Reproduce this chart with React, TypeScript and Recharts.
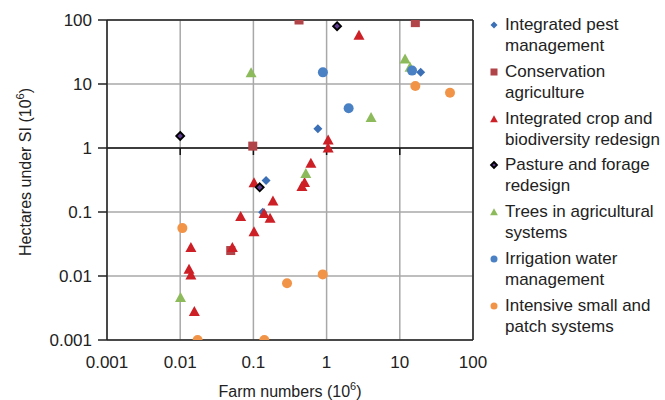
import {
  ScatterChart,
  Scatter,
  XAxis,
  YAxis,
  CartesianGrid,
  ReferenceLine,
  Label,
} from "recharts";

type Pt = { x: number; y: number };

const xTicks = [0.001, 0.01, 0.1, 1, 10, 100];
const yTicks = [0.001, 0.01, 0.1, 1, 10, 100];

// farm numbers (10^6) vs hectares under SI (10^6)
const pestMgmt: Pt[] = [
  { x: 19.3, y: 15.2 },
  { x: 0.76, y: 2.0 },
  { x: 0.149, y: 0.31 },
  { x: 0.134, y: 0.099 },
];

const conservation: Pt[] = [
  { x: 0.42, y: 100 },
  { x: 16.3, y: 91 },
  { x: 0.098, y: 1.07 },
  { x: 0.049, y: 0.025 },
];

const cropBiodiv: Pt[] = [
  { x: 2.77, y: 58 },
  { x: 1.05, y: 1.33 },
  { x: 1.05, y: 1.0 },
  { x: 0.61, y: 0.58 },
  { x: 0.5, y: 0.29 },
  { x: 0.46, y: 0.25 },
  { x: 0.102, y: 0.287 },
  { x: 0.185, y: 0.149 },
  { x: 0.14, y: 0.095 },
  { x: 0.169, y: 0.08 },
  { x: 0.067, y: 0.085 },
  { x: 0.102, y: 0.049 },
  { x: 0.014, y: 0.028 },
  { x: 0.0516, y: 0.028 },
  { x: 0.0132, y: 0.0127 },
  { x: 0.014, y: 0.0104 },
  { x: 0.0156, y: 0.0028 },
];

const pasture: Pt[] = [
  { x: 0.01, y: 1.54 },
  { x: 1.39, y: 80 },
  { x: 0.122, y: 0.243 },
];

const trees: Pt[] = [
  { x: 0.093, y: 15 },
  { x: 11.8, y: 24.5 },
  { x: 13.8, y: 18.2 },
  { x: 4.05, y: 3.0 },
  { x: 0.52, y: 0.4 },
  { x: 0.0101, y: 0.0046 },
];

const irrigation: Pt[] = [
  { x: 14.7, y: 16.2 },
  { x: 0.89, y: 15.2 },
  { x: 2.0, y: 4.17 },
];

const smallPatch: Pt[] = [
  { x: 16.3, y: 9.3 },
  { x: 48.5, y: 7.3 },
  { x: 0.885, y: 0.0106 },
  { x: 0.0107, y: 0.056 },
  { x: 0.288, y: 0.0077 },
  { x: 0.0173, y: 0.001 },
  { x: 0.141, y: 0.001 },
];

// the horizontal axis crosses at y = 1, with its ticks
const crossTicks: Pt[] = xTicks.slice(1, -1).map((x) => ({ x, y: 1 }));

type Kind = "diamond" | "square" | "triangle" | "pasture" | "circle";

const drawMark = (kind: Kind, color: string, cx: number, cy: number, s: number) => {
  if (kind === "square")
    return <rect x={cx - s / 2} y={cy - s / 2} width={s} height={s} fill={color} />;
  if (kind === "circle") return <circle cx={cx} cy={cy} r={s / 2} fill={color} />;
  if (kind === "triangle")
    return (
      <polygon
        points={`${cx},${cy - s * 0.55} ${cx + s * 0.55},${cy + s * 0.45} ${cx - s * 0.55},${cy + s * 0.45}`}
        fill={color}
      />
    );
  const h = s / 2;
  const pts = `${cx},${cy - h} ${cx + h},${cy} ${cx},${cy + h} ${cx - h},${cy}`;
  if (kind === "pasture")
    return <polygon points={pts} fill={color} stroke="#000" strokeWidth={1.8} />;
  return <polygon points={pts} fill={color} />;
};

const series: { name: string[]; data: Pt[]; kind: Kind; color: string; size: number }[] = [
  { name: ["Integrated pest", "management"], data: pestMgmt, kind: "diamond", color: "#3b6fb6", size: 9 },
  { name: ["Conservation", "agriculture"], data: conservation, kind: "square", color: "#b04448", size: 9 },
  { name: ["Integrated crop and", "biodiversity redesign"], data: cropBiodiv, kind: "triangle", color: "#cc1f26", size: 10 },
  { name: ["Pasture and forage", "redesign"], data: pasture, kind: "pasture", color: "#5e3d8f", size: 8 },
  { name: ["Trees in agricultural", "systems"], data: trees, kind: "triangle", color: "#8dbb5c", size: 10 },
  { name: ["Irrigation water", "management"], data: irrigation, kind: "circle", color: "#4a80c4", size: 10 },
  { name: ["Intensive small and", "patch systems"], data: smallPatch, kind: "circle", color: "#f29448", size: 10 },
];

const FONT = "'Liberation Sans', Arial, sans-serif";

export default function App() {
  return (
    <div
      style={{
        position: "absolute",
        left: 0,
        top: 0,
        width: 665,
        height: 400,
        background: "#fff",
        fontFamily: FONT,
      }}
    >
      <ScatterChart
        width={665}
        height={400}
        margin={{ top: 20, right: 192, bottom: 20, left: 27 }}
      >
        <CartesianGrid stroke="#a8a8a8" strokeWidth={1.5} />
        <XAxis
          type="number"
          dataKey="x"
          scale="log"
          domain={[0.001, 100]}
          ticks={xTicks}
          allowDataOverflow
          height={40}
          axisLine={{ stroke: "#222", strokeWidth: 1.5 }}
          tickLine={false}
          tick={{ fill: "#222", fontSize: 17, fontFamily: FONT }}
          tickFormatter={(v: number) => String(v)}
          tickMargin={10}
        >
          <Label
            content={() => (
              <text x={290} y={397} textAnchor="middle" fontSize={16} fill="#222" fontFamily={FONT}>
                Farm numbers (10
                <tspan dy={-7} fontSize={11}>6</tspan>
                <tspan dy={7}>)</tspan>
              </text>
            )}
          />
        </XAxis>
        <YAxis
          type="number"
          dataKey="y"
          scale="log"
          domain={[0.001, 100]}
          ticks={yTicks}
          allowDataOverflow
          width={80}
          axisLine={{ stroke: "#222", strokeWidth: 1.5 }}
          tickLine={{ stroke: "#222", strokeWidth: 1.5 }}
          tickSize={9}
          tick={{ fill: "#222", fontSize: 17, fontFamily: FONT }}
          tickFormatter={(v: number) => String(v)}
          tickMargin={6}
        >
          <Label
            content={() => (
              <text
                x={31}
                y={172}
                transform="rotate(-90, 31, 172)"
                textAnchor="middle"
                fontSize={16}
                fill="#222"
                fontFamily={FONT}
              >
                Hectares under SI (10
                <tspan dy={-7} fontSize={11}>6</tspan>
                <tspan dy={7}>)</tspan>
              </text>
            )}
          />
        </YAxis>
        <ReferenceLine y={1} stroke="#111" strokeWidth={1.5} />
        <ReferenceLine y={100} stroke="#222" strokeWidth={1.5} />
        <ReferenceLine x={100} stroke="#222" strokeWidth={1.5} />
        <Scatter
          data={crossTicks}
          isAnimationActive={false}
          shape={(p: any) => (
            <line x1={p.cx} x2={p.cx} y1={p.cy} y2={p.cy + 7} stroke="#111" strokeWidth={1.5} />
          )}
        />
        {series.map((s) => (
          <Scatter
            key={s.name.join(" ")}
            name={s.name.join(" ")}
            data={s.data}
            isAnimationActive={false}
            shape={(p: any) => drawMark(s.kind, s.color, p.cx, p.cy, s.size)}
          />
        ))}
      </ScatterChart>
      <div style={{ position: "absolute", left: 488, top: 14 }}>
        {series.map((s) => (
          <div
            key={s.name.join(" ")}
            style={{ position: "relative", height: 46.8, fontSize: 17, lineHeight: "21px", color: "#222" }}
          >
            <svg width={12} height={12} style={{ position: "absolute", left: 0, top: 5 }}>
              {drawMark(s.kind, s.color, 6, 6, s.kind === "pasture" ? 6 : 7)}
            </svg>
            <div style={{ position: "absolute", left: 17, top: 0, whiteSpace: "nowrap" }}>
              {s.name[0]}
              <br />
              {s.name[1]}
            </div>
          </div>
        ))}
      </div>
    </div>
  );
}
